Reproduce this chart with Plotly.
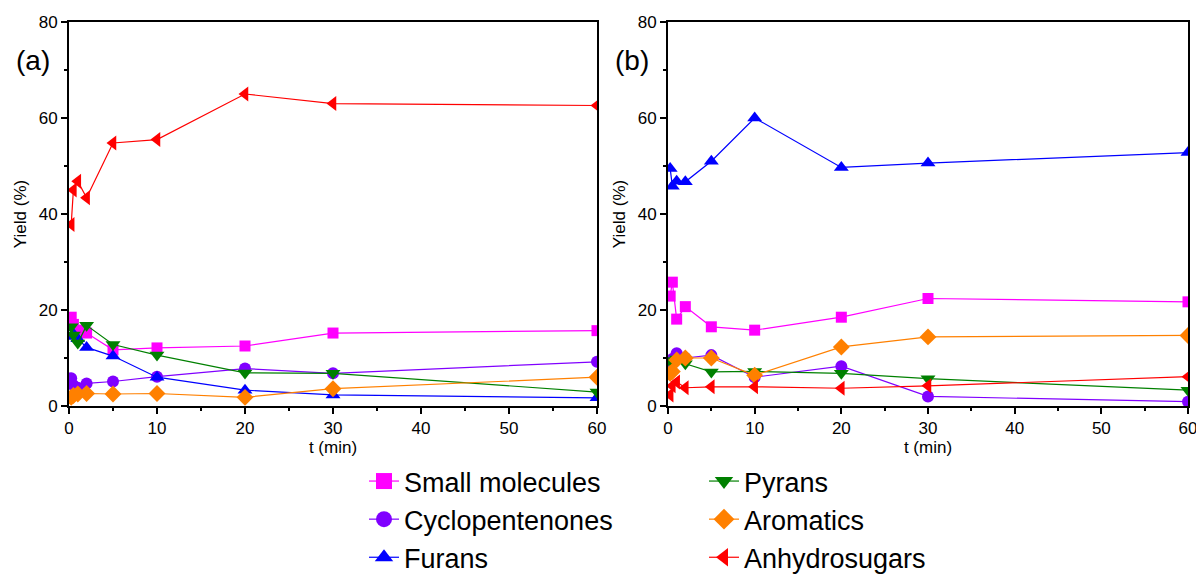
import plotly.graph_objects as go

t = [0.25, 0.5, 1, 2, 5, 10, 20, 30, 60]

names = ["Small molecules", "Cyclopentenones", "Furans", "Pyrans", "Aromatics", "Anhydrosugars"]
colors = ["#FF00FF", "#8000FF", "#0000FF", "#008000", "#FF8000", "#FF0000"]
symbols = ["square", "circle", "triangle-up", "triangle-down", "diamond", "triangle-left"]
msizes = [11, 12, 13, 13, 13, 13]

# Panel (a)
a_small = [18.5, 17.0, 15.8, 15.2, 11.7, 12.1, 12.5, 15.2, 15.7]
a_cyclo = [5.8, 4.3, 3.8, 4.7, 5.1, 6.1, 7.8, 6.8, 9.2]
a_furans = [14.5, 15.0, 14.0, 12.2, 10.4, 6.0, 3.3, 2.3, 1.7]
a_pyrans = [16.5, 14.8, 13.1, 16.8, 12.8, 10.6, 6.9, 6.8, 2.9]
a_arom = [1.8, 2.2, 2.5, 2.6, 2.5, 2.6, 1.8, 3.6, 6.0]
a_anhydro = [37.8, 45.0, 46.8, 43.4, 54.8, 55.5, 65.0, 63.0, 62.6]

# Panel (b)
b_small = [22.9, 25.8, 18.1, 20.7, 16.5, 15.8, 18.5, 22.4, 21.7]
b_cyclo = [9.0, 9.8, 11.0, 10.0, 10.6, 6.0, 8.3, 2.0, 0.9]
b_furans = [49.5, 45.8, 46.8, 46.7, 51.0, 60.0, 49.7, 50.6, 52.8]
b_pyrans = [9.3, 9.5, 9.8, 8.8, 7.1, 7.2, 6.8, 5.7, 3.3]
b_arom = [6.8, 7.2, 9.6, 10.0, 10.0, 6.4, 12.3, 14.4, 14.7]
b_anhydro = [2.3, 4.2, 5.0, 3.8, 4.0, 4.0, 3.7, 4.2, 6.1]

panel_a = [a_small, a_cyclo, a_furans, a_pyrans, a_arom, a_anhydro]
panel_b = [b_small, b_cyclo, b_furans, b_pyrans, b_arom, b_anhydro]

FONT = "Arial, Liberation Sans, sans-serif"

fig = go.Figure()

for i, (nm, c, s) in enumerate(zip(names, colors, symbols)):
    fig.add_trace(go.Scatter(x=t, y=panel_a[i], mode="lines+markers", name=nm,
                             line=dict(color=c, width=1.2),
                             marker=dict(symbol=s, size=msizes[i], color=c),
                             xaxis="x", yaxis="y", showlegend=False))
    fig.add_trace(go.Scatter(x=t, y=panel_b[i], mode="lines+markers", name=nm,
                             line=dict(color=c, width=1.2),
                             marker=dict(symbol=s, size=msizes[i], color=c),
                             xaxis="x2", yaxis="y2", showlegend=False))

# legend entries (two columns)
for i, (nm, c, s) in enumerate(zip(names, colors, symbols)):
    fig.add_trace(go.Scatter(x=[None], y=[None], mode="lines+markers", name=nm,
                             line=dict(color=c, width=1.2),
                             marker=dict(symbol=s, size=16, color=c),
                             xaxis="x", yaxis="y", showlegend=True,
                             legend="legend" if i < 3 else "legend2"))

W, H = 1196, 578
ytop, ybot = 22, 406
ydom = [(H - ybot) / H, (H - ytop) / H]

def xax(domain, anchor):
    return dict(domain=domain, anchor=anchor, range=[0, 60], tickmode="linear", tick0=0, dtick=10,
                ticks="outside", ticklen=6, tickwidth=1.5, tickcolor="black",
                minor=dict(dtick=5, ticks="outside", ticklen=3.5, tickwidth=1.5, tickcolor="black"),
                showline=True, linecolor="black", linewidth=1.8, mirror=True,
                showgrid=False, zeroline=False, ticklabeloverflow="allow",
                tickfont=dict(size=17, color="black", family=FONT),
                title=dict(text="t (min)", font=dict(size=17, color="black", family=FONT), standoff=4),
                automargin=False)

def yax(anchor):
    return dict(domain=ydom, anchor=anchor, range=[0, 80], tickmode="linear", tick0=0, dtick=20,
                ticks="outside", ticklen=6, tickwidth=1.5, tickcolor="black",
                minor=dict(dtick=10, ticks="outside", ticklen=3.5, tickwidth=1.5, tickcolor="black"),
                showline=True, linecolor="black", linewidth=1.8, mirror=True,
                showgrid=False, zeroline=False, ticklabeloverflow="allow",
                tickfont=dict(size=17, color="black", family=FONT),
                title=dict(text="Yield (%)", font=dict(size=17, color="black", family=FONT), standoff=8),
                automargin=False)

fig.update_layout(
    width=W, height=H,
    margin=dict(l=0, r=0, t=0, b=0, autoexpand=False),
    paper_bgcolor="white", plot_bgcolor="white",
    font=dict(family=FONT, color="black"),
    xaxis=xax([69 / W, 597 / W], "y"),
    yaxis=yax("x"),
    xaxis2=xax([668 / W, 1188 / W], "y2"),
    yaxis2=yax("x2"),
    legend=dict(x=364 / W, y=(H - 457) / H, xanchor="left", yanchor="top",
                font=dict(size=27, family=FONT, color="black"), bgcolor="rgba(0,0,0,0)",
                tracegroupgap=0),
    legend2=dict(x=704 / W, y=(H - 457) / H, xanchor="left", yanchor="top",
                 font=dict(size=27, family=FONT, color="black"), bgcolor="rgba(0,0,0,0)",
                 tracegroupgap=0),
    annotations=[
        dict(text="(a)", x=14 / W, y=(H - 60) / H, xref="paper", yref="paper",
             xanchor="left", yanchor="middle", showarrow=False,
             font=dict(size=28, family=FONT, color="black")),
        dict(text="(b)", x=613 / W, y=(H - 60) / H, xref="paper", yref="paper",
             xanchor="left", yanchor="middle", showarrow=False,
             font=dict(size=28, family=FONT, color="black")),
    ],
)

fig.write_html("out.html")
